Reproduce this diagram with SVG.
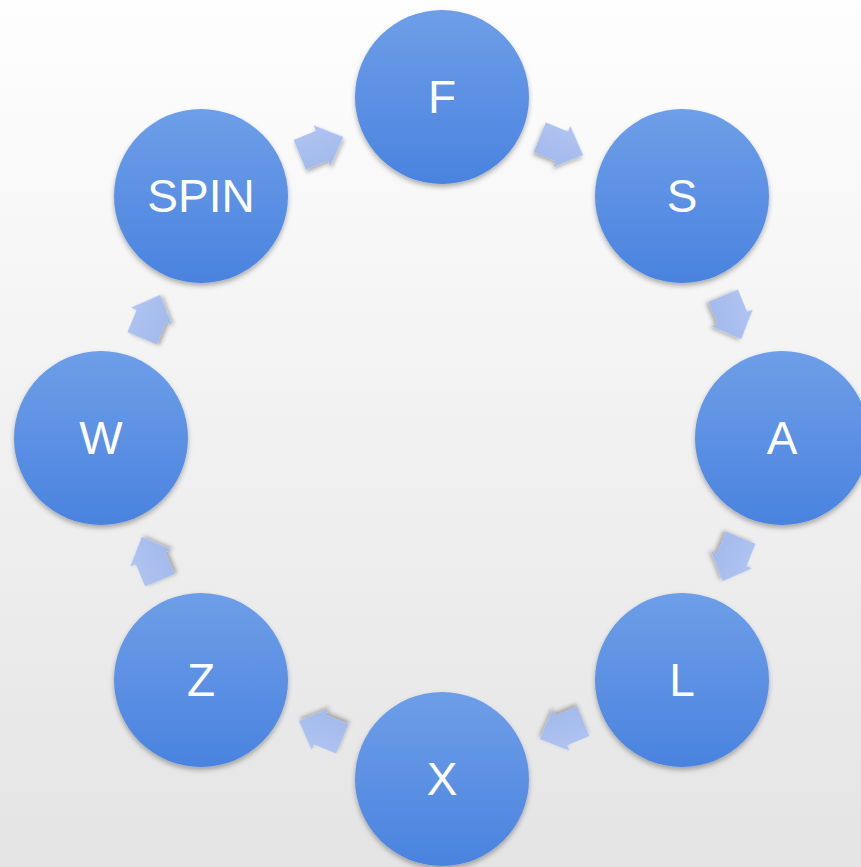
<svg xmlns="http://www.w3.org/2000/svg" width="861" height="867" viewBox="0 0 861 867">
<defs>
<linearGradient id="bg" x1="0" y1="0" x2="0" y2="1">
<stop offset="0" stop-color="#fefefe"/>
<stop offset="1" stop-color="#e4e4e4"/>
</linearGradient>
<linearGradient id="nodeFill" x1="0" y1="0" x2="0" y2="1">
<stop offset="0" stop-color="#6e9ee8"/>
<stop offset="1" stop-color="#4a83df"/>
</linearGradient>
<linearGradient id="arrFill" x1="0" y1="0" x2="0" y2="1">
<stop offset="0" stop-color="#b0c4f1"/>
<stop offset="1" stop-color="#a2b9ec"/>
</linearGradient>
<filter id="sh" x="-20%" y="-20%" width="140%" height="140%">
<feDropShadow dx="0" dy="3" stdDeviation="2.5" flood-color="#000" flood-opacity="0.3"/>
</filter>
<filter id="ash" x="-40%" y="-40%" width="180%" height="180%">
<feDropShadow dx="0" dy="3" stdDeviation="2" flood-color="#000" flood-opacity="0.3"/>
</filter>
<polygon id="arr" points="-23,-16 1,-16 1,-22 24,0 1,22 1,16 -23,16"/>
</defs>
<style>
.node circle { fill: url(#nodeFill); filter: url(#sh); }
.node text { fill: #ffffff; font-family: "Liberation Sans", Arial, sans-serif; font-size: 46px; text-anchor: middle; }
.conn use { fill: url(#arrFill); filter: url(#ash); }
</style>
<rect width="861" height="867" fill="url(#bg)"/>
<g id="connectors" class="conn">
<use href="#arr" transform="translate(561,146) rotate(22.4)"/>
<use href="#arr" transform="translate(732,317) rotate(67.5)"/>
<use href="#arr" transform="translate(732,559) rotate(112.5)"/>
<use href="#arr" transform="translate(562,730) rotate(157.6)"/>
<use href="#arr" transform="translate(321,730) rotate(202.4)"/>
<use href="#arr" transform="translate(151,559) rotate(247.5)"/>
<use href="#arr" transform="translate(151,317) rotate(292.5)"/>
<use href="#arr" transform="translate(321,146) rotate(337.6)"/>
</g>
<g id="node-F" class="node"><circle cx="442" cy="97" r="87"/><text x="442" y="113">F</text></g>
<g id="node-S" class="node"><circle cx="682" cy="196" r="87"/><text x="682" y="212">S</text></g>
<g id="node-A" class="node"><circle cx="782" cy="438" r="87"/><text x="782" y="454">A</text></g>
<g id="node-L" class="node"><circle cx="682" cy="680" r="87"/><text x="682" y="696">L</text></g>
<g id="node-X" class="node"><circle cx="442" cy="779" r="87"/><text x="442" y="795">X</text></g>
<g id="node-Z" class="node"><circle cx="201" cy="680" r="87"/><text x="201" y="696">Z</text></g>
<g id="node-W" class="node"><circle cx="101" cy="438" r="87"/><text x="101" y="454">W</text></g>
<g id="node-SPIN" class="node"><circle cx="201" cy="196" r="87"/><text x="201" y="212">SPIN</text></g>
</svg>
